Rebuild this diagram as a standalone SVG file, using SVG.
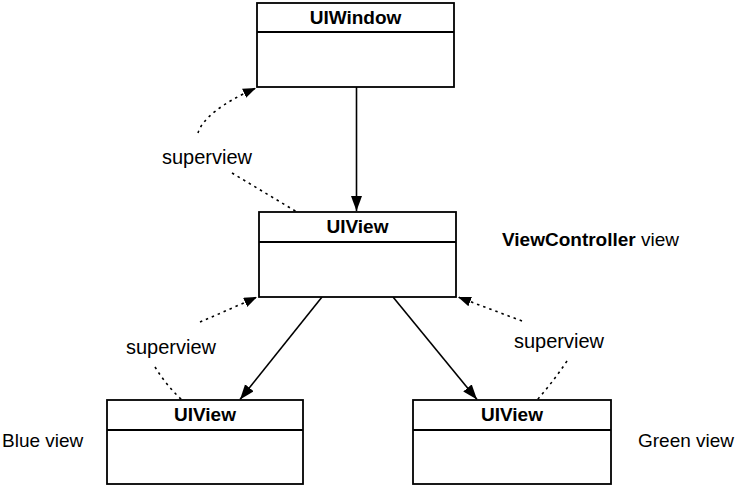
<svg xmlns="http://www.w3.org/2000/svg" width="737" height="488" viewBox="0 0 737 488">
<style>
.box{fill:#fff;stroke:#000;stroke-width:1.8}
.div{stroke:#000;stroke-width:1.8}
.title{font-family:"Liberation Sans",Arial,sans-serif;font-size:19px;font-weight:bold;text-anchor:middle;fill:#000}
.lbl{font-family:"Liberation Sans",Arial,sans-serif;font-size:19px;fill:#000}
.sv{font-family:"Liberation Sans",Arial,sans-serif;font-size:20px;fill:#000;text-anchor:middle}
.solid{fill:none;stroke:#000;stroke-width:1.6}
.dot{fill:none;stroke:#000;stroke-width:1.6;stroke-dasharray:2.5 4}
</style>
<defs>
<marker id="ah" markerUnits="userSpaceOnUse" markerWidth="16" markerHeight="12" refX="15" refY="5.5" orient="auto" viewBox="0 0 16 12">
<path d="M0,0 L15,5.5 L0,11 z" fill="#000"/>
</marker>
<marker id="ahs" markerUnits="userSpaceOnUse" markerWidth="14" markerHeight="11" refX="13" refY="5" orient="auto" viewBox="0 0 14 11">
<path d="M0,0 L13,5 L0,10 z" fill="#000"/>
</marker>
</defs>
<g id="connectors">
<path class="solid" d="M356.5,87 L356.5,211" marker-end="url(#ah)"/>
<path class="solid" d="M322,297 L240,399.5" marker-end="url(#ah)"/>
<path class="solid" d="M393,297 L477,399.5" marker-end="url(#ah)"/>
<path class="dot" d="M198,133 C202,119 222,103 256,88" marker-end="url(#ahs)"/>
<path class="dot" d="M232,173 L297,212"/>
<path class="dot" d="M200,322 Q228,310 257,297" marker-end="url(#ahs)"/>
<path class="dot" d="M155,367 Q166,385 182,400"/>
<path class="dot" d="M522,321 Q490,309 458,297" marker-end="url(#ahs)"/>
<path class="dot" d="M567,361 Q553,382 537,400"/>
</g>
<g id="uiwindow">
<rect class="box" x="257" y="3" width="197" height="84"/>
<line class="div" x1="257" y1="32" x2="454" y2="32"/>
<text class="title" x="355.5" y="24">UIWindow</text>
</g>
<g id="uiview-main">
<rect class="box" x="259" y="212" width="197" height="85"/>
<line class="div" x1="259" y1="242" x2="456" y2="242"/>
<text class="title" x="357.5" y="233">UIView</text>
</g>
<g id="uiview-blue">
<rect class="box" x="107" y="400" width="196" height="84"/>
<line class="div" x1="107" y1="430" x2="303" y2="430"/>
<text class="title" x="205" y="421">UIView</text>
</g>
<g id="uiview-green">
<rect class="box" x="413" y="400" width="198" height="84"/>
<line class="div" x1="413" y1="430" x2="611" y2="430"/>
<text class="title" x="512" y="421">UIView</text>
</g>
<g id="labels">
<text class="sv" x="207" y="164">superview</text>
<text class="sv" x="171" y="354">superview</text>
<text class="sv" x="559" y="348">superview</text>
<text class="lbl" x="2" y="447">Blue view</text>
<text class="lbl" x="638" y="447">Green view</text>
<text class="lbl" x="502" y="246"><tspan font-weight="bold">ViewController</tspan> view</text>
</g>
</svg>
